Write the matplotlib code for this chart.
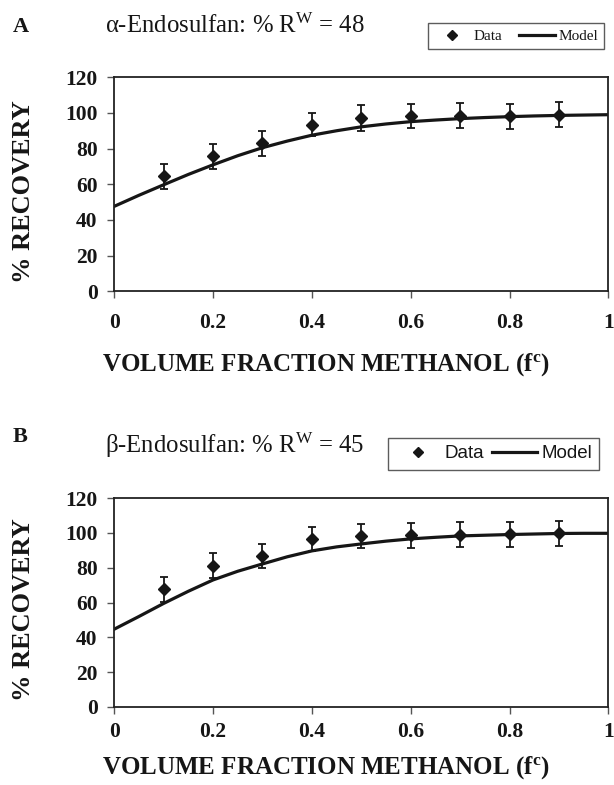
import matplotlib
matplotlib.use('Agg')
import matplotlib.pyplot as plt
from matplotlib.lines import Line2D

# measured data, fraction of methanol in the extraction solvent
frac = [0.1, 0.2, 0.3, 0.4, 0.5, 0.6, 0.7, 0.8, 0.9]

alpha_rec = [64.4, 75.6, 83.1, 93.5, 97.2, 98.4, 98.5, 98.2, 99.1]
alpha_err = [6.8, 7.0, 7.0, 6.6, 7.2, 6.8, 6.9, 7.0, 6.9]

beta_rec = [67.6, 81.2, 86.8, 96.6, 98.3, 98.7, 99.1, 99.3, 99.8]
beta_err = [7.3, 7.3, 7.1, 7.0, 7.1, 7.2, 7.2, 7.1, 7.2]

# model curves
model_x = [0.0, 0.05, 0.1, 0.15, 0.2, 0.25, 0.3, 0.35, 0.4, 0.45, 0.5,
           0.55, 0.6, 0.65, 0.7, 0.75, 0.8, 0.85, 0.9, 0.95, 1.0]
alpha_model = [47.6, 53.8, 59.7, 65.5, 70.9, 76.0, 80.5, 84.2, 87.5, 90.0, 92.2,
               93.8, 95.1, 96.0, 96.8, 97.4, 97.9, 98.3, 98.6, 98.8, 99.0]
beta_model = [44.7, 52.0, 59.5, 66.5, 73.0, 78.0, 82.2, 86.3, 89.7, 92.0, 93.7,
              95.3, 96.6, 97.5, 98.3, 98.7, 99.1, 99.4, 99.7, 99.8, 99.8]

x_ticks = [0, 0.2, 0.4, 0.6, 0.8, 1]
x_ticklabels = ['0', '0.2', '0.4', '0.6', '0.8', '1']
y_ticks = [0, 20, 40, 60, 80, 100, 120]

INK = '#161616'


def draw_panel(fig, rect, rec, err, model, xpad, letter, letter_y, title,
               title_y, xlabel_y, leg_font, leg_size, leg_box):
    ax = fig.add_axes(rect)
    ax.plot(model_x, model, color=INK, lw=2.3, zorder=2)
    ax.errorbar(frac, rec, yerr=err, fmt='D', color=INK, ms=6.3,
                ecolor=INK, elinewidth=1.3, capsize=3, capthick=1.3, zorder=3)
    ax.set_xlim(0, 1)
    ax.set_ylim(0, 120)
    ax.set_xticks(x_ticks)
    ax.set_xticklabels(x_ticklabels)
    ax.set_yticks(y_ticks)
    for s in ax.spines.values():
        s.set_linewidth(1.3)
        s.set_color('#222222')
    ax.tick_params(direction='out', length=5, width=1, color='#555555')
    ax.tick_params(axis='x', pad=xpad)
    ax.tick_params(axis='y', pad=7)
    for lbl in ax.get_xticklabels() + ax.get_yticklabels():
        lbl.set_fontfamily('Liberation Serif')
        lbl.set_fontweight('bold')
        lbl.set_fontsize(15.5)
        lbl.set_color(INK)

    yc = rect[1] + rect[3] * 0.5 - 0.009
    fig.text(0.039, yc, '% RECOVERY', rotation=90, ha='center', va='center',
             fontfamily='Liberation Serif', fontweight='bold', fontsize=19,
             color=INK)
    fig.text(0.166, xlabel_y, 'VOLUME FRACTION METHANOL (f$^{\\mathbf{c}}$)',
             ha='left', va='center', fontfamily='Liberation Serif',
             fontweight='bold', fontsize=18, color=INK)

    fig.text(0.021, letter_y, letter, ha='left', va='baseline',
             fontfamily='Liberation Serif', fontweight='bold', fontsize=16,
             color=INK)
    fig.text(0.171, title_y, title, ha='left', va='baseline',
             fontfamily='Liberation Serif', fontsize=17.8, color=INK)

    handles = [Line2D([], [], marker='D', ls='none', color=INK, ms=5.5),
               Line2D([], [], color=INK, lw=2.3)]
    leg = fig.legend(handles, ['Data', 'Model'], loc='center',
                     bbox_to_anchor=leg_box, mode='expand', ncol=2,
                     frameon=True, fancybox=False, edgecolor='#333333',
                     prop={'family': leg_font, 'size': leg_size},
                     handlelength=2.4, handletextpad=0.2, columnspacing=0.6,
                     borderpad=0.4, borderaxespad=0)
    leg.get_frame().set_linewidth(1.0)
    for t in leg.get_texts():
        t.set_color(INK)
    return ax


def main():
    plt.rcParams['mathtext.fontset'] = 'custom'
    plt.rcParams['mathtext.rm'] = 'Liberation Serif'
    plt.rcParams['mathtext.bf'] = 'Liberation Serif:bold'
    plt.rcParams['mathtext.it'] = 'Liberation Serif:italic'

    fig = plt.figure(figsize=(6.14, 7.85), dpi=100)

    # legend boxes as (x0, y0, w, h) in figure fractions
    draw_panel(fig, [0.186, 0.629, 0.805, 0.2726], alpha_rec, alpha_err,
               alpha_model, 11, 'A', 0.959,
               'α-Endosulfan: % R$^{\\mathrm{W}}$ = 48', 0.958, 0.536,
               'Liberation Serif', 11, (0.697, 0.935, 0.287, 0.038))
    draw_panel(fig, [0.186, 0.0994, 0.805, 0.266], beta_rec, beta_err,
               beta_model, 6, 'B', 0.437,
               'β-Endosulfan: % R$^{\\mathrm{W}}$ = 45', 0.423, 0.022,
               'Liberation Sans', 13.5, (0.632, 0.401, 0.344, 0.042))

    fig.savefig('out.png', dpi=100, facecolor='white')


if __name__ == '__main__':
    main()
